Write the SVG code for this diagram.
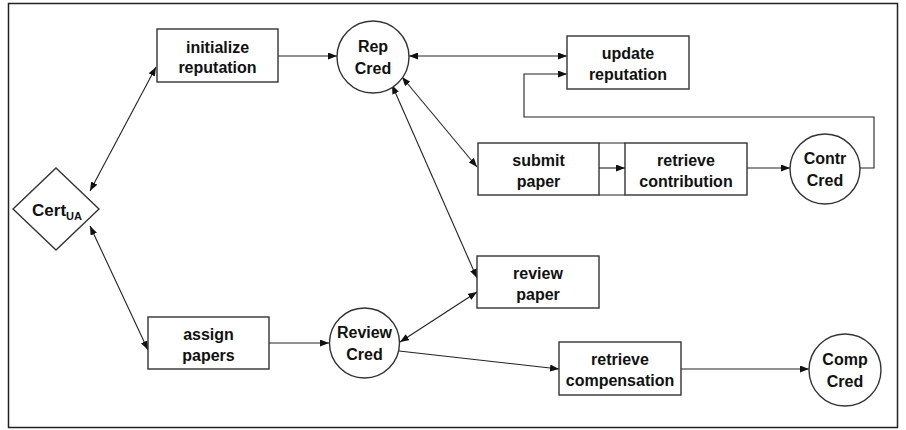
<svg xmlns="http://www.w3.org/2000/svg" width="906" height="430" viewBox="0 0 906 430">
<style>
.frame{fill:#fff;stroke:#222;stroke-width:1.5}
.box{fill:#fff;stroke:#333;stroke-width:1.4}
.c{fill:none;stroke:#222;stroke-width:1.1}
.t{font-family:"Liberation Sans",Arial,sans-serif;font-weight:bold;font-size:16px;fill:#111;text-anchor:middle}
.sub{font-size:11px}
</style>
<defs>
<marker id="ah" viewBox="0 0 10 10" refX="10" refY="5" markerWidth="9" markerHeight="7" markerUnits="userSpaceOnUse" orient="auto-start-reverse" preserveAspectRatio="none">
<path d="M0,0 L10,5 L0,10 z" fill="#111"/>
</marker>
</defs>
<rect class="frame" x="8.5" y="3.5" width="889" height="424"/>
<g id="connectors">
<path class="c" d="M278,56 L337,56" marker-end="url(#ah)"/>
<path class="c" d="M409,56 L567,56" marker-start="url(#ah)" marker-end="url(#ah)"/>
<path class="c" d="M860,168 L874,168 L874,117 L524,117 L524,74 L567,74" marker-end="url(#ah)"/>
<path class="c" d="M599,168 L625,168" marker-end="url(#ah)"/>
<path class="c" d="M599,143 L625,143 M599,195 L625,195"/>
<path class="c" d="M747,168 L790,168" marker-end="url(#ah)"/>
<path class="c" d="M402,77 L477,167" marker-start="url(#ah)" marker-end="url(#ah)"/>
<path class="c" d="M392,85 L477,278" marker-start="url(#ah)" marker-end="url(#ah)"/>
<path class="c" d="M90,191 L156,67" marker-start="url(#ah)" marker-end="url(#ah)"/>
<path class="c" d="M90,226 L148,350" marker-start="url(#ah)" marker-end="url(#ah)"/>
<path class="c" d="M269,343 L329,343" marker-end="url(#ah)"/>
<path class="c" d="M400,342 L477,292" marker-start="url(#ah)" marker-end="url(#ah)"/>
<path class="c" d="M399,351 L559,369" marker-end="url(#ah)"/>
<path class="c" d="M681,369 L809,369" marker-end="url(#ah)"/>
</g>
<g id="cert">
<path class="box" d="M56,168 L99,209 L56,250 L13,209 z"/>
<text class="t" x="57" y="216" style="font-size:17px">Cert<tspan class="sub" dy="4">UA</tspan></text>
</g>
<g id="initialize">
<rect class="box" x="157" y="29" width="121" height="53"/>
<text class="t" x="217.5" y="52.5">initialize</text>
<text class="t" x="217.5" y="73">reputation</text>
</g>
<g id="repcred">
<circle class="box" cx="373" cy="57" r="36"/>
<text class="t" x="373" y="52">Rep</text>
<text class="t" x="373" y="73.5">Cred</text>
</g>
<g id="update">
<rect class="box" x="567" y="36" width="122" height="53"/>
<text class="t" x="628" y="59">update</text>
<text class="t" x="628" y="80">reputation</text>
</g>
<g id="submit">
<rect class="box" x="478" y="143" width="121" height="52"/>
<text class="t" x="538.5" y="166">submit</text>
<text class="t" x="538.5" y="187">paper</text>
</g>
<g id="retrievecontribution">
<rect class="box" x="625" y="143" width="122" height="52"/>
<text class="t" x="686" y="166">retrieve</text>
<text class="t" x="686" y="187">contribution</text>
</g>
<g id="contrcred">
<circle class="box" cx="825" cy="169" r="35"/>
<text class="t" x="825" y="164">Contr</text>
<text class="t" x="825" y="185.5">Cred</text>
</g>
<g id="reviewpaper">
<rect class="box" x="477" y="256" width="122" height="52"/>
<text class="t" x="538" y="279">review</text>
<text class="t" x="538" y="300">paper</text>
</g>
<g id="assign">
<rect class="box" x="148" y="317" width="121" height="52"/>
<text class="t" x="208.5" y="340">assign</text>
<text class="t" x="208.5" y="361">papers</text>
</g>
<g id="reviewcred">
<circle class="box" cx="364.5" cy="343" r="35"/>
<text class="t" x="364.5" y="338">Review</text>
<text class="t" x="364.5" y="359.5">Cred</text>
</g>
<g id="retrievecompensation">
<rect class="box" x="559" y="342" width="122" height="53"/>
<text class="t" x="620" y="365">retrieve</text>
<text class="t" x="620" y="386">compensation</text>
</g>
<g id="compcred">
<circle class="box" cx="845" cy="370" r="36"/>
<text class="t" x="845" y="365">Comp</text>
<text class="t" x="845" y="386.5">Cred</text>
</g>
</svg>
